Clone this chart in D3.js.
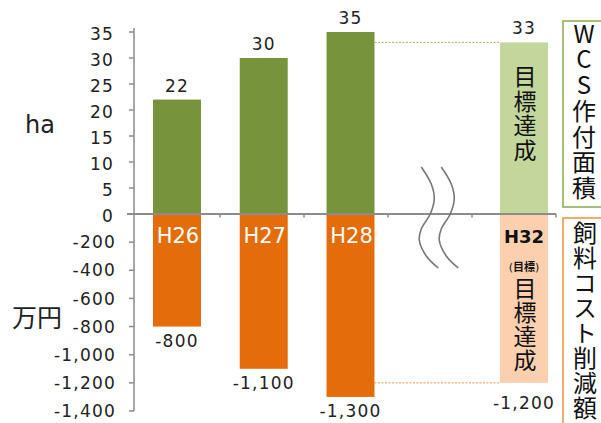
<!DOCTYPE html>
<html>
<head>
<meta charset="utf-8">
<script src="https://cdn.jsdelivr.net/npm/d3@7"></script>
<style>
  html, body { margin: 0; padding: 0; background: #fff; }
  svg { display: block; }
  .vert { writing-mode: vertical-rl; text-orientation: upright; }
</style>
</head>
<body>
<svg id="chart" width="601" height="423"></svg>
<script>
// Fiscal years (a blank slot stands for the skipped years before the target)
const years = ["H26", "H27", "H28", "", "H32"];
// WCS planted area (ha), upper half
const area = [22, 30, 35, null, 33];
// Feed cost reduction (10,000 yen), lower half
const cost = [-800, -1100, -1300, null, -1200];
// Axis ticks
const areaTicks = [0, 5, 10, 15, 20, 25, 30, 35];
const costTicks = [-200, -400, -600, -800, -1000, -1200, -1400];
// Year that is the target
const targetYear = "H32";
const targetWord = "目標";
const achieved = "目標達成";
const areaTitle = "WCS作付面積";
const costTitle = "飼料コスト削減額";

const svg = d3.select("#chart");
const NUM_FONT = "'DejaVu Sans', sans-serif";
const JP_FONT = "'Noto Sans CJK JP', sans-serif";

const green = "#77933C", orange = "#E46C0A";
const lightGreen = "#C3D69B", lightOrange = "#FCD0AE";
const axisGray = "#8C8C8C";

const x = d3.scaleBand().domain(years).range([133.6, 567.4])
  .paddingInner(0.447).paddingOuter(0.2235);
const xAxisBand = d3.scaleBand().domain(years).range([136, 556]);
const yTop = d3.scaleLinear().domain([0, 35]).range([214, 32]);
const yBot = d3.scaleLinear().domain([0, -1400]).range([214, 411]);
const y0 = yTop(0);
const fmt = v => d3.format(",")(v).replace("−", "-");

const rows = years.map((yr, i) => ({ yr, a: area[i], c: cost[i] }))
  .filter(d => d.a !== null);
const isTarget = d => d.yr === targetYear;

// Bars
svg.append("g").selectAll("rect").data(rows).join("rect")
  .attr("x", d => x(d.yr)).attr("width", x.bandwidth())
  .attr("y", d => yTop(d.a)).attr("height", d => y0 - yTop(d.a))
  .attr("fill", d => isTarget(d) ? lightGreen : green);
svg.append("g").selectAll("rect").data(rows).join("rect")
  .attr("x", d => x(d.yr)).attr("width", x.bandwidth())
  .attr("y", y0).attr("height", d => yBot(d.c) - y0)
  .attr("fill", d => isTarget(d) ? lightOrange : orange);

// Dotted guides from the last actual year to the target
const last = rows[rows.length - 2], tgt = rows[rows.length - 1];
svg.append("line")
  .attr("x1", x(last.yr) + x.bandwidth()).attr("x2", x(tgt.yr))
  .attr("y1", yTop(tgt.a)).attr("y2", yTop(tgt.a))
  .attr("stroke", "#9BBB59").attr("stroke-width", 1).attr("stroke-dasharray", "2,1.5");
svg.append("line")
  .attr("x1", x(last.yr) + x.bandwidth()).attr("x2", x(tgt.yr))
  .attr("y1", yBot(tgt.c)).attr("y2", yBot(tgt.c))
  .attr("stroke", "#F79646").attr("stroke-width", 1).attr("stroke-dasharray", "2,1.5");

// Vertical axis (shared)
const axisX = 134;
svg.append("line").attr("x1", axisX).attr("x2", axisX)
  .attr("y1", yTop(35) - 4).attr("y2", yBot(-1400))
  .attr("stroke", axisGray).attr("stroke-width", 1.5);
const tickG = svg.append("g");
areaTicks.forEach(t => {
  tickG.append("line").attr("x1", axisX - 5).attr("x2", axisX)
    .attr("y1", yTop(t)).attr("y2", yTop(t)).attr("stroke", axisGray).attr("stroke-width", 1.5);
  tickG.append("text").attr("x", 114).attr("y", yTop(t) + 2).attr("dy", "0.36em")
    .attr("text-anchor", "end").attr("font-family", NUM_FONT).attr("font-size", 17)
    .attr("letter-spacing", 1.2).attr("fill", "#222").text(t);
});
costTicks.forEach(t => {
  tickG.append("line").attr("x1", axisX - 5).attr("x2", axisX)
    .attr("y1", yBot(t)).attr("y2", yBot(t)).attr("stroke", axisGray).attr("stroke-width", 1.5);
  tickG.append("text").attr("x", 116).attr("y", yBot(t)).attr("dy", "0.36em")
    .attr("text-anchor", "end").attr("font-family", NUM_FONT).attr("font-size", 17)
    .attr("letter-spacing", 1.2).attr("fill", "#222").text(fmt(t));
});

// Horizontal axis with category boundary ticks
svg.append("line").attr("x1", 127).attr("x2", xAxisBand.range()[1])
  .attr("y1", y0).attr("y2", y0).attr("stroke", axisGray).attr("stroke-width", 2);
years.forEach(yr => {
  const bx = xAxisBand(yr) + xAxisBand.bandwidth();
  svg.append("line").attr("x1", bx).attr("x2", bx).attr("y1", y0).attr("y2", y0 + 3.5)
    .attr("stroke", axisGray).attr("stroke-width", 1.5);
});

// Axis unit labels
svg.append("text").attr("x", 25).attr("y", 133).attr("font-family", NUM_FONT)
  .attr("font-size", 24).attr("fill", "#222").text("ha");
svg.append("text").attr("x", 12).attr("y", 326.5).attr("font-family", JP_FONT)
  .attr("font-size", 25).attr("fill", "#222").text("万円");

// Axis break mark in the skipped slot
const gapX = x("") + x.bandwidth() / 2;
const wave = d3.line().curve(d3.curveCatmullRom.alpha(0.5));
const waveShape = [[-7, -47], [3, -30], [6, -15], [2, 0], [-7, 15], [-9, 26], [-2, 42], [10, 54]];
[-9, 11].forEach(off => {
  svg.append("path")
    .attr("d", wave(waveShape.map(([dx, dy]) => [gapX + off + dx, y0 + dy])))
    .attr("fill", "none").attr("stroke", "#777").attr("stroke-width", 1.6);
});

// Value labels
svg.append("g").selectAll("text").data(rows).join("text")
  .attr("x", d => x(d.yr) + x.bandwidth() / 2).attr("y", d => yTop(d.a) - 8)
  .attr("text-anchor", "middle").attr("font-family", NUM_FONT).attr("font-size", 17)
  .attr("letter-spacing", 1.2).attr("fill", "#222").text(d => d.a);
svg.append("g").selectAll("text").data(rows).join("text")
  .attr("x", d => x(d.yr) + x.bandwidth() / 2)
  .attr("y", d => yBot(d.c) + (isTarget(d) ? 26 : 20))
  .attr("text-anchor", "middle").attr("font-family", NUM_FONT).attr("font-size", 17)
  .attr("letter-spacing", 1.2).attr("fill", "#222").text(d => fmt(d.c));

// Year labels inside the lower bars
svg.append("g").selectAll("text").data(rows.filter(d => !isTarget(d))).join("text")
  .attr("x", d => x(d.yr) + x.bandwidth() / 2 + 1).attr("y", 243)
  .attr("text-anchor", "middle").attr("font-family", NUM_FONT).attr("font-size", 21)
  .attr("fill", "#fff").text(d => d.yr);
const tx = x(targetYear) + x.bandwidth() / 2;
svg.append("text").attr("x", tx).attr("y", 243).attr("text-anchor", "middle")
  .attr("font-family", NUM_FONT).attr("font-size", 18).attr("font-weight", "bold")
  .attr("fill", "#111").text(targetYear);
const sub = svg.append("text").attr("x", tx).attr("y", 271).attr("text-anchor", "middle")
  .attr("font-size", 11).attr("fill", "#111");
sub.append("tspan").attr("font-family", NUM_FONT).text("(");
sub.append("tspan").attr("font-family", JP_FONT).attr("font-weight", "bold").text(targetWord);
sub.append("tspan").attr("font-family", NUM_FONT).text(")");

// Vertical text: one text element laid out top-to-bottom, upright glyphs
function vtext(str, cx, top, step, size) {
  svg.append("text").attr("class", "vert")
    .attr("x", cx).attr("y", top)
    .attr("font-family", JP_FONT).attr("font-size", size)
    .attr("letter-spacing", step - size).attr("fill", "#111")
    .text(str);
}
vtext(achieved, tx + 1, 65, 24.5, 23);
vtext(achieved, tx + 1, 277, 24, 23);

// Side titles in outlined boxes
svg.append("rect").attr("x", 563).attr("y", 21).attr("width", 60).attr("height", 186)
  .attr("fill", "#fff").attr("stroke", "#8AAA4A").attr("stroke-width", 1.5);
svg.append("rect").attr("x", 563).attr("y", 218).attr("width", 60).attr("height", 220)
  .attr("fill", "#fff").attr("stroke", "#F0903A").attr("stroke-width", 1.5);
vtext(areaTitle, 584, 21.5, 25.75, 24);
vtext(costTitle, 585, 221, 25, 24);
</script>
</body>
</html>
